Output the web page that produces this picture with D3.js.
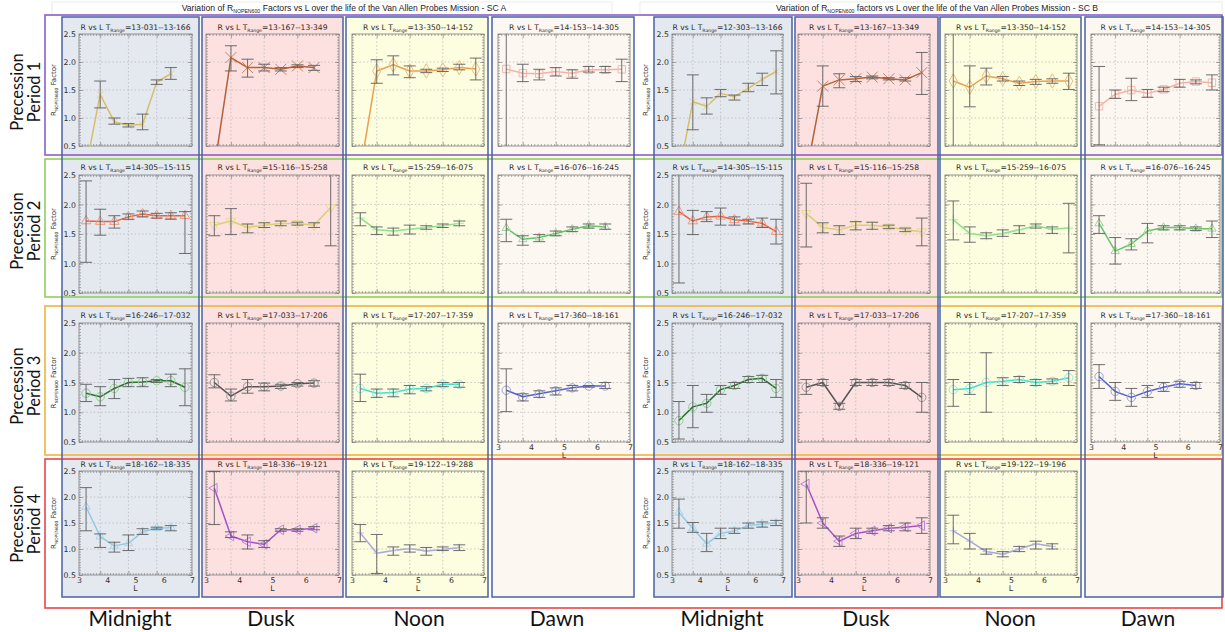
<!DOCTYPE html>
<html>
<head>
<meta charset="utf-8">
<script src="https://cdn.jsdelivr.net/npm/d3@7"></script>
<style>
  body { margin: 0; background: #fff; }
  svg { display: block; }
</style>
</head>
<body>
<svg id="chart" width="1225" height="632"></svg>
<script>
// ---------------------------------------------------------------
// Data: R factor vs L, per spacecraft / precession period / sector.
// Each entry is [R, lower, upper] for the matching L bin (null = no bin).
// ---------------------------------------------------------------
const L_BINS = [3.25, 3.75, 4.25, 4.75, 5.25, 5.75, 6.25, 6.75];
const L_TICKS = [3, 4, 5, 6, 7];
const R_TICKS = [0.5, 1.0, 1.5, 2.0, 2.5];
const L_GRID = [3.75, 4.75, 5.75];
const R_GRID = [1.0, 1.5, 2.0];
const SECTORS = ["Midnight", "Dusk", "Noon", "Dawn"];
const PERIODS = ["Period 1", "Period 2", "Period 3", "Period 4"];

const rangesA = [
  ["13-031--13-166", "13-167--13-349", "13-350--14-152", "14-153--14-305"],
  ["14-305--15-115", "15-116--15-258", "15-259--16-075", "16-076--16-245"],
  ["16-246--17-032", "17-033--17-206", "17-207--17-359", "17-360--18-161"],
  ["18-162--18-335", "18-336--19-121", "19-122--19-288", null]
];
const rangesB = [
  ["12-303--13-166", "13-167--13-349", "13-350--14-152", "14-153--14-305"],
  ["14-305--15-115", "15-116--15-258", "15-259--16-075", "16-076--16-245"],
  ["16-246--17-032", "17-033--17-206", "17-207--17-359", "17-360--18-161"],
  ["18-162--18-335", "18-336--19-121", "19-122--19-196", null]
];

// Spacecraft A
const a1Midnight = [[0.12,null,null],[1.42,1.18,1.66],[0.93,0.89,1.00],[0.87,0.84,0.90],[0.89,0.79,1.07],[1.64,1.60,1.68],[1.79,1.69,1.90],null];
const a1Dusk     = [[0.10,null,null],[2.08,1.84,2.29],[1.90,1.73,2.05],[1.90,1.84,1.96],[1.87,1.84,1.90],[1.93,1.90,1.95],[1.90,1.85,1.94],null];
const a1Noon     = [[0.05,null,null],[1.84,1.62,2.04],[1.95,1.77,2.11],[1.84,1.72,1.93],[1.84,1.81,1.87],[1.86,1.83,1.89],[1.90,1.86,1.96],[1.875,1.68,2.07]];
const a1Dawn     = [[1.875,0.30,2.80],[1.80,1.65,1.96],[1.79,1.68,1.87],[1.83,1.75,1.90],[1.80,1.71,1.86],[1.86,1.82,1.92],[1.86,1.81,1.92],[1.87,1.65,2.05]];

const a2Midnight = [[1.72,1.02,2.40],[1.71,1.48,1.92],[1.71,1.60,1.81],[1.79,1.75,1.84],[1.84,1.79,1.89],[1.81,1.77,1.85],[1.81,1.75,1.86],[1.81,1.17,1.88]];
const a2Dusk     = [[1.65,1.47,1.81],[1.72,1.49,1.93],[1.61,1.52,1.67],[1.65,1.61,1.69],[1.68,1.64,1.72],[1.68,1.65,1.70],[1.65,1.61,1.69],[1.95,1.30,2.52]];
const a2Noon     = [[1.77,1.64,1.86],[1.57,1.49,1.62],[1.55,1.48,1.60],[1.58,1.50,1.65],[1.61,1.58,1.64],[1.64,1.61,1.67],[1.68,1.64,1.72],null];
const a2Dawn     = [[1.60,1.37,1.75],[1.41,1.31,1.47],[1.44,1.37,1.49],[1.51,1.47,1.55],[1.58,1.54,1.62],[1.64,1.60,1.67],[1.62,1.58,1.67],null];

const a3Midnight = [[1.32,1.18,1.47],[1.26,1.11,1.43],[1.40,1.23,1.55],[1.50,1.43,1.57],[1.51,1.43,1.58],[1.53,1.50,1.55],[1.53,1.43,1.64],[1.42,1.11,1.73]];
const a3Dusk     = [[1.50,1.41,1.63],[1.27,1.19,1.39],[1.43,1.32,1.55],[1.43,1.36,1.49],[1.44,1.40,1.47],[1.48,1.44,1.50],[1.49,1.44,1.53],null];
const a3Noon     = [[1.40,1.18,1.64],[1.32,1.25,1.39],[1.33,1.26,1.39],[1.39,1.31,1.45],[1.40,1.36,1.43],[1.47,1.43,1.50],[1.47,1.42,1.50],null];
const a3Dawn     = [[1.37,1.01,1.73],[1.26,1.19,1.31],[1.31,1.25,1.36],[1.36,1.29,1.41],[1.41,1.36,1.45],[1.44,1.42,1.45],[1.44,1.40,1.50],null];

const a4Midnight = [[1.81,1.35,2.18],[1.24,1.03,1.29],[1.06,0.94,1.13],[1.11,0.97,1.27],[1.33,1.28,1.39],[1.40,1.38,1.42],[1.41,1.35,1.45],null];
const a4Dusk     = [[2.17,1.47,2.49],[1.25,1.22,1.33],[1.14,1.00,1.27],[1.09,1.03,1.16],[1.37,1.34,1.39],[1.37,1.34,1.39],[1.40,1.37,1.43],null];
const a4Noon     = [[1.31,1.14,1.47],[0.92,0.53,1.28],[0.97,0.88,1.04],[1.01,0.94,1.08],[0.96,0.88,1.03],[0.99,0.97,1.04],[1.03,0.97,1.08],null];

// Spacecraft B
const b1Midnight = [[0.00,null,null],[1.29,0.79,1.77],[1.21,1.07,1.36],[1.44,1.38,1.51],[1.38,1.32,1.41],[1.53,1.47,1.62],[1.69,1.58,1.80],[1.83,1.43,2.20]];
const b1Dusk     = [[0.00,null,null],[1.57,1.21,1.93],[1.68,1.54,1.79],[1.70,1.65,1.74],[1.73,1.70,1.75],[1.70,1.68,1.72],[1.68,1.66,1.72],[1.81,1.42,2.17]];
const b1Noon     = [[1.66,0.30,2.80],[1.55,1.20,1.93],[1.75,1.59,1.89],[1.70,1.66,1.74],[1.62,1.58,1.66],[1.65,1.60,1.69],[1.66,1.62,1.70],[1.66,1.51,1.80]];
const b1Dawn     = [[1.21,0.52,1.92],[1.42,1.35,1.50],[1.50,1.31,1.71],[1.44,1.37,1.51],[1.51,1.47,1.55],[1.62,1.55,1.69],[1.65,1.61,1.68],[1.63,1.50,1.77]];

const b2Midnight = [[1.88,0.67,2.60],[1.72,1.49,1.90],[1.79,1.71,1.88],[1.80,1.65,1.94],[1.74,1.65,1.79],[1.72,1.67,1.75],[1.68,1.61,1.77],[1.54,1.33,1.75]];
const b2Dusk     = [[1.85,1.28,2.36],[1.61,1.52,1.69],[1.57,1.49,1.64],[1.65,1.57,1.71],[1.65,1.58,1.70],[1.62,1.59,1.65],[1.57,1.54,1.60],[1.54,1.30,1.77]];
const b2Noon     = [[1.74,1.40,2.06],[1.51,1.36,1.62],[1.47,1.42,1.52],[1.51,1.46,1.57],[1.57,1.51,1.64],[1.64,1.60,1.67],[1.58,1.51,1.62],[1.60,1.18,2.02]];
const b2Dawn     = [[1.68,1.51,1.81],[1.21,0.99,1.44],[1.33,1.23,1.42],[1.55,1.35,1.68],[1.61,1.57,1.64],[1.61,1.57,1.64],[1.59,1.56,1.62],[1.59,1.44,1.72]];

const b3Midnight = [[0.86,0.55,1.18],[1.09,0.74,1.45],[1.15,1.00,1.30],[1.38,1.30,1.45],[1.45,1.40,1.50],[1.55,1.50,1.60],[1.57,1.50,1.62],[1.40,1.25,1.55]];
const b3Dusk     = [[1.42,1.30,1.55],[1.50,1.45,1.55],[1.10,1.05,1.15],[1.50,1.45,1.55],[1.50,1.45,1.55],[1.50,1.45,1.55],[1.45,1.40,1.50],[1.25,1.00,1.50]];
const b3Noon     = [[1.38,1.10,1.55],[1.40,1.30,1.50],[1.50,1.00,2.00],[1.52,1.45,1.58],[1.55,1.50,1.60],[1.50,1.45,1.55],[1.52,1.48,1.56],[1.58,1.45,1.70]];
const b3Dawn     = [[1.60,1.40,1.80],[1.35,1.20,1.50],[1.25,1.10,1.40],[1.35,1.25,1.45],[1.42,1.35,1.50],[1.48,1.42,1.52],[1.45,1.40,1.50],null];

const b4Midnight = [[1.70,1.40,1.96],[1.40,1.32,1.51],[1.10,0.95,1.30],[1.30,1.20,1.40],[1.35,1.30,1.40],[1.45,1.40,1.50],[1.48,1.42,1.52],[1.50,1.45,1.55]];
const b4Dusk     = [[2.25,1.50,2.50],[1.50,1.40,1.60],[1.15,1.05,1.25],[1.30,1.20,1.40],[1.35,1.30,1.40],[1.40,1.35,1.45],[1.42,1.35,1.50],[1.45,1.30,1.60]];
const b4Noon     = [[1.35,1.10,1.65],[1.15,1.00,1.30],[0.95,0.90,1.00],[0.90,0.85,0.95],[1.00,0.95,1.05],[1.10,1.00,1.15],[1.05,1.00,1.10],null];

const seriesA = [
  [a1Midnight, a1Dusk, a1Noon, a1Dawn],
  [a2Midnight, a2Dusk, a2Noon, a2Dawn],
  [a3Midnight, a3Dusk, a3Noon, a3Dawn],
  [a4Midnight, a4Dusk, a4Noon, null]
];
const seriesB = [
  [b1Midnight, b1Dusk, b1Noon, b1Dawn],
  [b2Midnight, b2Dusk, b2Noon, b2Dawn],
  [b3Midnight, b3Dusk, b3Noon, b3Dawn],
  [b4Midnight, b4Dusk, b4Noon, null]
];

// ---------------------------------------------------------------
// Layout and styling
// ---------------------------------------------------------------
const ROW_BOX = [[15, 155], [159, 297], [306, 455], [459, 608]];
const ROW_COLOR = ["#8d5ec6", "#8fcf5c", "#f0b43a", "#e64848"];
const PLOT_Y = [[34, 146], [175, 293], [323, 442], [471, 575]];
const TITLE_Y = [30, 170, 318, 467];
const ROW_LABEL_Y = [92, 231, 386, 524];
const COL_BG = ["#e4e8ef", "#fde0e0", "#fdfde0", "#fdf7f1"];
const COL_STROKE = "#4a62a4";
const COL_Y = [17, 597];

const halves = [
  {
    colBox: [[62, 199], [202, 343], [346, 488], [492, 634]],
    plotX: [[79, 192], [206, 339], [352, 484], [498, 630]],
    yTitleX: 56,
    title: ["Variation of R", "NOPEN600", " Factors vs L over the life of the Van Allen Probes Mission - SC A"],
    titleX: 344,
    ranges: rangesA, series: seriesA,
    sectorX: [130, 271, 419, 557]
  },
  {
    colBox: [[654, 792], [795, 938], [940, 1081], [1085, 1223]],
    plotX: [[672, 783], [798, 930], [945, 1077], [1091, 1220]],
    yTitleX: 648,
    title: ["Variation of R", "NOPEN600", " factors vs L over the life of the Van Allen Probes Mission - SC B"],
    titleX: 937,
    ranges: rangesB, series: seriesB,
    sectorX: [722, 866, 1010, 1148]
  }
];

// Line / marker style for each period (row) and sector (column)
const STYLE = [
  [{line: "#d8be6a", mk: "#e6d38c", sym: "times", size: 30},
   {line: "#b4613c", mk: "#c8825e", sym: "times", size: 80},
   {line: "#eaa050", mk: "#f0bd82", sym: "diamond", size: 60},
   {line: "#f2b2a8", mk: "#f2b8ae", sym: "square", size: 55}],
  [{line: "#e8603c", mk: "#f09a80", sym: "triangle", size: 40},
   {line: "#d9cf72", mk: "#e6dc92", sym: "triangleDown", size: 40},
   {line: "#8ee08e", mk: "#a8e8a8", sym: "plus", size: 30},
   {line: "#66c466", mk: "#9ad89a", sym: "triangle", size: 30}],
  [{line: "#2f6f2f", mk: "#8ed08e", sym: "circle", size: 55},
   {line: "#555555", mk: "#9a9a9a", sym: "circle", size: 55},
   {line: "#3fe0cc", mk: "#90ece0", sym: "circle", size: 55},
   {line: "#5464cc", mk: "#98a4e0", sym: "circle", size: 55}],
  [{line: "#92cae6", mk: "#a8d6ee", sym: "triangle", size: 30},
   {line: "#a452c8", mk: "#c080e0", sym: "triangleLeft", size: 40},
   {line: "#a8a8dc", mk: "#c0c0e8", sym: "plus", size: 20},
   null]
];

const FONT_PLOT = "'DejaVu Sans', sans-serif";
const FONT_BIG = "Lato, 'Open Sans', sans-serif";

const svg = d3.select("#chart");
const defs = svg.append("defs");
let clipCount = 0;

const symbolTypes = {
  times: d3.symbolTimes || d3.symbolCross,
  plus: d3.symbolPlus || d3.symbolCross,
  diamond: d3.symbolDiamond,
  square: d3.symbolSquare,
  circle: d3.symbolCircle,
  triangle: d3.symbolTriangle,
  triangleDown: d3.symbolTriangle,
  triangleLeft: d3.symbolTriangle
};
const symbolRotate = {triangleDown: 180, triangleLeft: -90};

// faint header frames
[[52, 612], [640, 1222]].forEach(([x0, x1]) => {
  svg.append("rect").attr("x", x0).attr("y", 2).attr("width", x1 - x0).attr("height", 13)
    .attr("fill", "none").attr("stroke", "#ececec").attr("stroke-width", 1);
});

// column backgrounds
halves.forEach(h => {
  h.colBox.forEach((cb, c) => {
    svg.append("rect").attr("x", cb[0]).attr("y", COL_Y[0])
      .attr("width", cb[1] - cb[0]).attr("height", COL_Y[1] - COL_Y[0])
      .attr("fill", COL_BG[c]);
  });
});

// period frames
ROW_BOX.forEach((rb, r) => {
  svg.append("rect").attr("x", 45).attr("y", rb[0]).attr("width", 1222 - 45).attr("height", rb[1] - rb[0])
    .attr("fill", "none").attr("stroke", ROW_COLOR[r]).attr("stroke-width", 1.6);
});

// column outlines
halves.forEach(h => {
  h.colBox.forEach(cb => {
    svg.append("rect").attr("x", cb[0]).attr("y", COL_Y[0])
      .attr("width", cb[1] - cb[0]).attr("height", COL_Y[1] - COL_Y[0])
      .attr("fill", "none").attr("stroke", COL_STROKE).attr("stroke-width", 1.5);
  });
});

// titles
halves.forEach(h => {
  const t = svg.append("text").attr("x", h.titleX).attr("y", 11).attr("text-anchor", "middle")
    .style("font-family", "'Liberation Sans', Arial, sans-serif").style("font-size", "8.6px").attr("fill", "#222");
  t.append("tspan").text(h.title[0]);
  t.append("tspan").attr("dy", 2).style("font-size", "5.2px").text(h.title[1]);
  t.append("tspan").attr("dy", -2).text(h.title[2]);
});

// precession labels
ROW_LABEL_Y.forEach((cy, r) => {
  [["Precession", 17], [PERIODS[r], 34]].forEach(([txt, cx]) => {
    svg.append("text").attr("transform", `translate(${cx},${cy}) rotate(-90)`)
      .attr("text-anchor", "middle").attr("dominant-baseline", "central")
      .style("font-family", FONT_BIG).style("font-size", "16.5px").attr("fill", "#111").text(txt);
  });
});

// sector labels
halves.forEach(h => {
  h.sectorX.forEach((cx, c) => {
    svg.append("text").attr("x", cx).attr("y", 626).attr("text-anchor", "middle")
      .style("font-family", FONT_BIG).style("font-size", "21px").attr("fill", "#111").text(SECTORS[c]);
  });
});

function minorValues(a, b, step) {
  return d3.range(Math.round((b - a) / step) + 1).map(i => +(a + i * step).toFixed(3));
}

function drawPanel(h, r, c) {
  const data = h.series[r][c];
  const st = STYLE[r][c];
  const px = h.plotX[c], py = PLOT_Y[r];
  const x = d3.scaleLinear().domain([3, 7]).range(px);
  const y = d3.scaleLinear().domain([0.5, 2.5]).range([py[1], py[0]]);
  const g = svg.append("g");
  const showY = c === 0;
  const showX = (r === 3) || (r === 2 && c === 3);

  // title
  const t = g.append("text").attr("x", (px[0] + px[1]) / 2).attr("y", TITLE_Y[r]).attr("text-anchor", "middle")
    .style("font-family", FONT_PLOT).style("font-size", "7.6px").attr("fill", "#2a2a2a");
  t.append("tspan").text("R vs L T");
  t.append("tspan").attr("dy", 1.8).style("font-size", "4.6px").text("Range");
  t.append("tspan").attr("dy", -1.8).text("=" + h.ranges[r][c]);

  // grid
  g.append("g").selectAll("line").data(R_GRID).join("line")
    .attr("x1", px[0]).attr("x2", px[1]).attr("y1", d => y(d)).attr("y2", d => y(d))
    .attr("stroke", "#b4b4b4").attr("stroke-width", 0.7).attr("stroke-dasharray", "1.5,2.2");
  g.append("g").selectAll("line").data(L_GRID).join("line")
    .attr("y1", py[0]).attr("y2", py[1]).attr("x1", d => x(d)).attr("x2", d => x(d))
    .attr("stroke", "#b4b4b4").attr("stroke-width", 0.7).attr("stroke-dasharray", "1.5,2.2");

  // ticks (inward, on all four sides)
  const tickColor = "#777";
  const minorL = minorValues(3, 7, 0.1), minorR = minorValues(0.5, 2.5, 0.05);
  const axes = [
    [d3.axisBottom(x).tickValues(minorL).tickSize(-2), `translate(0,${py[1]})`],
    [d3.axisBottom(x).tickValues(L_GRID).tickSize(-4), `translate(0,${py[1]})`],
    [d3.axisTop(x).tickValues(minorL).tickSize(-2), `translate(0,${py[0]})`],
    [d3.axisTop(x).tickValues(L_GRID).tickSize(-4), `translate(0,${py[0]})`],
    [d3.axisLeft(y).tickValues(minorR).tickSize(-2), `translate(${px[0]},0)`],
    [d3.axisLeft(y).tickValues(R_TICKS).tickSize(-4), `translate(${px[0]},0)`],
    [d3.axisRight(y).tickValues(minorR).tickSize(-2), `translate(${px[1]},0)`],
    [d3.axisRight(y).tickValues(R_TICKS).tickSize(-4), `translate(${px[1]},0)`]
  ];
  axes.forEach(([ax, tr]) => {
    const ag = g.append("g").attr("transform", tr).call(ax.tickFormat(""));
    ag.select(".domain").remove();
    ag.selectAll("line").attr("stroke", tickColor).attr("stroke-width", 0.6);
  });

  // frame
  g.append("rect").attr("x", px[0]).attr("y", py[0]).attr("width", px[1] - px[0]).attr("height", py[1] - py[0])
    .attr("fill", "none").attr("stroke", "#8c8c8c").attr("stroke-width", 0.9);

  // y tick labels and axis title
  if (showY) {
    const ag = g.append("g").attr("transform", `translate(${px[0]},0)`)
      .call(d3.axisLeft(y).tickValues(R_TICKS).tickSize(0).tickPadding(3).tickFormat(d3.format(".1f")));
    ag.select(".domain").remove();
    ag.selectAll("text").style("font-family", FONT_PLOT).style("font-size", "7.8px").attr("fill", "#333");
    const yt = g.append("text").attr("transform", `translate(${h.yTitleX},${(py[0] + py[1]) / 2}) rotate(-90)`)
      .attr("text-anchor", "middle").style("font-family", FONT_PLOT).style("font-size", "7px").attr("fill", "#333");
    yt.append("tspan").text("R");
    yt.append("tspan").attr("dy", 1.8).style("font-size", "4.3px").text("NOPEN600");
    yt.append("tspan").attr("dy", -1.8).text(" Factor");
  }
  if (showX) {
    const ag = g.append("g").attr("transform", `translate(0,${py[1]})`)
      .call(d3.axisBottom(x).tickValues(L_TICKS).tickSize(0).tickPadding(2).tickFormat(d3.format("d")));
    ag.select(".domain").remove();
    ag.selectAll("text").style("font-family", FONT_PLOT).style("font-size", "7.8px").attr("fill", "#333");
    g.append("text").attr("x", (px[0] + px[1]) / 2).attr("y", py[1] + 16).attr("text-anchor", "middle")
      .style("font-family", FONT_PLOT).style("font-size", "7.8px").attr("fill", "#333").text("L");
  }

  if (!data) return;

  const pts = L_BINS.map((L, i) => data[i] ? {L, v: data[i][0], lo: data[i][1], hi: data[i][2]} : null)
    .filter(d => d !== null);

  const clipId = "clip" + (++clipCount);
  defs.append("clipPath").attr("id", clipId).append("rect")
    .attr("x", px[0]).attr("y", py[0]).attr("width", px[1] - px[0]).attr("height", py[1] - py[0]);
  const pg = g.append("g").attr("clip-path", `url(#${clipId})`);

  // connecting line
  pg.append("path").datum(pts)
    .attr("d", d3.line().x(d => x(d.L)).y(d => y(d.v)))
    .attr("fill", "none").attr("stroke", st.line).attr("stroke-width", 1.5).attr("stroke-linejoin", "round");

  // markers
  const sym = d3.symbol().type(symbolTypes[st.sym]).size(st.size);
  pg.append("g").selectAll("path").data(pts).join("path")
    .attr("transform", d => `translate(${x(d.L)},${y(d.v)}) rotate(${symbolRotate[st.sym] || 0})`)
    .attr("d", sym)
    .attr("fill", "none").attr("stroke", st.mk).attr("stroke-width", 1);

  // error bars
  const eb = pts.filter(d => d.lo != null && d.hi != null);
  const capW = 6;
  const eg = pg.append("g").attr("stroke", "#5e5e5e").attr("stroke-width", 0.9);
  eg.selectAll("line.v").data(eb).join("line").attr("class", "v")
    .attr("x1", d => x(d.L)).attr("x2", d => x(d.L)).attr("y1", d => y(d.lo)).attr("y2", d => y(d.hi));
  eg.selectAll("line.lo").data(eb).join("line").attr("class", "lo")
    .attr("x1", d => x(d.L) - capW).attr("x2", d => x(d.L) + capW).attr("y1", d => y(d.lo)).attr("y2", d => y(d.lo));
  eg.selectAll("line.hi").data(eb).join("line").attr("class", "hi")
    .attr("x1", d => x(d.L) - capW).attr("x2", d => x(d.L) + capW).attr("y1", d => y(d.hi)).attr("y2", d => y(d.hi));
}

halves.forEach(h => {
  for (let r = 0; r < 4; r++) {
    for (let c = 0; c < 4; c++) {
      if (h.ranges[r][c] === null) continue;
      drawPanel(h, r, c);
    }
  }
});
</script>
</body>
</html>
